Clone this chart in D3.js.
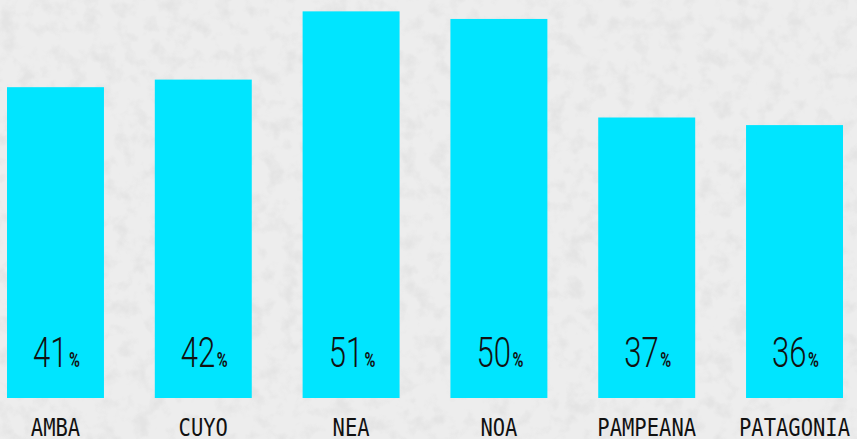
<!DOCTYPE html>
<html>
<head>
<meta charset="utf-8">
<script src="https://cdn.jsdelivr.net/npm/d3@7"></script>
<style>
  html, body { margin: 0; padding: 0; background: #ebebeb; }
  svg { display: block; }
</style>
</head>
<body>
<div id="chart"></div>
<script>
// regions and share (%)
const regions = ["AMBA", "CUYO", "NEA", "NOA", "PAMPEANA", "PATAGONIA"]
const shares = [41, 42, 51, 50, 37, 36]

const width = 857
const height = 439
const barColor = "#00e5ff"

const svg = d3.select("#chart")
    .append("svg")
    .attr("width", width)
    .attr("height", height)

// concrete-ish backdrop, kept faint
const defs = svg.append("defs")
const filt = defs.append("filter").attr("id", "grain")
    .attr("x", 0).attr("y", 0).attr("width", "100%").attr("height", "100%")
filt.append("feTurbulence")
    .attr("type", "fractalNoise")
    .attr("baseFrequency", "0.06")
    .attr("numOctaves", 3)
    .attr("seed", 11)
filt.append("feColorMatrix")
    .attr("type", "matrix")
    .attr("values", "0 0 0 0 0.5  0 0 0 0 0.5  0 0 0 0 0.5  0 0 0 -3 1.6")

svg.append("rect")
    .attr("width", width).attr("height", height)
    .attr("fill", "#ededed")
svg.append("rect")
    .attr("width", width).attr("height", height)
    .attr("filter", "url(#grain)")
    .attr("opacity", 0.18)

const x = d3.scaleBand()
    .domain(regions)
    .range([7, 843])
    .paddingInner(0.344)
    .paddingOuter(0)

const y = d3.scaleLinear()
    .domain([0, 52.5])
    .range([398, 0])

const data = regions.map((r, i) => ({ region: r, value: shares[i] }))

svg.append("g")
    .selectAll("rect")
    .data(data)
    .join("rect")
    .attr("x", d => x(d.region))
    .attr("y", d => y(d.value))
    .attr("width", x.bandwidth())
    .attr("height", d => y(0) - y(d.value))
    .attr("fill", barColor)

// value labels inside the bars
const vals = svg.append("g")
    .selectAll("text")
    .data(data)
    .join("text")
    .attr("transform", d => `translate(${x(d.region) + x.bandwidth() / 2 + 1},367) scale(0.74,1)`)
    .attr("text-anchor", "middle")
    .attr("font-family", "Roboto, 'Liberation Sans Narrow', sans-serif")
    .attr("font-weight", 300)
    .attr("font-size", 42)
    .attr("fill", "#111")
vals.append("tspan").text(d => d.value)
vals.append("tspan")
    .attr("font-size", 20)
    .attr("font-weight", 700)
    .attr("dx", 2)
    .text("%")

// category labels
svg.append("g")
    .selectAll("text")
    .data(data)
    .join("text")
    .attr("transform", d => `translate(${x(d.region) + x.bandwidth() / 2},436) scale(0.82,1)`)
    .attr("text-anchor", "middle")
    .attr("font-family", "'DejaVu Sans Mono', monospace")
    .attr("font-size", 25)
    .attr("fill", "#111")
    .text(d => d.region)
</script>
</body>
</html>
